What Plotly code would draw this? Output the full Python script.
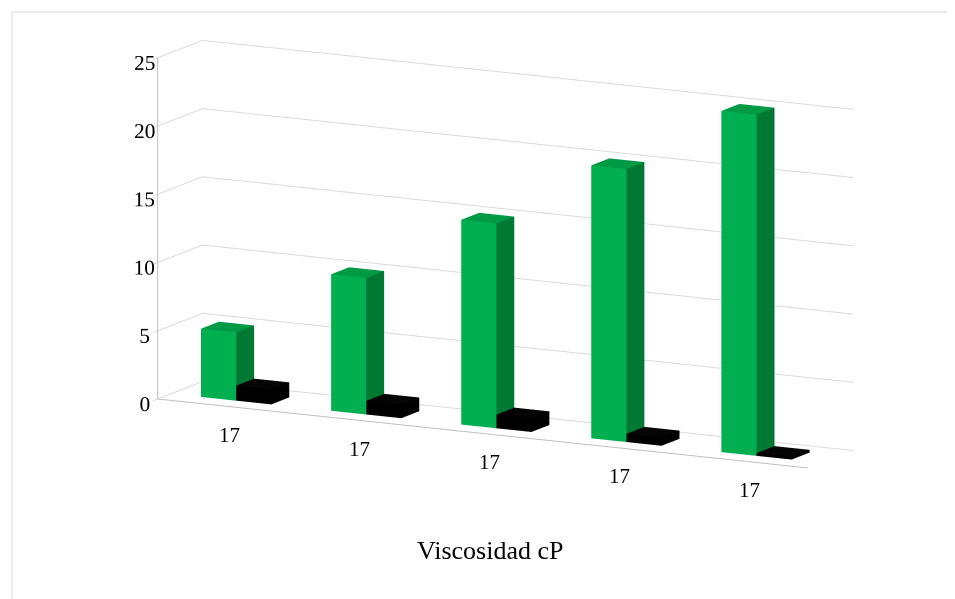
import math
import plotly.graph_objects as go

categories = ["17", "17", "17", "17", "17"]
green_values = [5.0, 10.0, 15.0, 20.0, 25.0]
black_values = [1.1, 1.0, 1.0, 0.6, 0.2]
z_ticks = [0, 5, 10, 15, 20, 25]
axis_title = "Viscosidad cP"

BAR_W = 0.27
Y0, Y1 = 0.3, 0.7
positions = list(range(1, len(categories) + 1))


def cuboids(values, offset, colors):
    xs, ys, zs, ii, jj, kk, fc = [], [], [], [], [], [], []
    faces = [
        ((0, 1, 2), "bottom"), ((0, 2, 3), "bottom"),
        ((4, 5, 6), "top"), ((4, 6, 7), "top"),
        ((0, 1, 5), "front"), ((0, 5, 4), "front"),
        ((3, 2, 6), "back"), ((3, 6, 7), "back"),
        ((0, 3, 7), "left"), ((0, 7, 4), "left"),
        ((1, 2, 6), "right"), ((1, 6, 5), "right"),
    ]
    for c, v in zip(positions, values):
        x0 = c + offset
        x1 = x0 + BAR_W
        base = len(xs)
        for (x, y, z) in [(x0, Y0, 0), (x1, Y0, 0), (x1, Y1, 0), (x0, Y1, 0),
                          (x0, Y0, v), (x1, Y0, v), (x1, Y1, v), (x0, Y1, v)]:
            xs.append(x); ys.append(y); zs.append(z)
        for (a, b, d), name in faces:
            ii.append(base + a); jj.append(base + b); kk.append(base + d)
            fc.append(colors[name])
    return xs, ys, zs, ii, jj, kk, fc


green_cols = dict(front="#00B050", right="#007A33", top="#009A44",
                  left="#00B050", back="#007A33", bottom="#007A33")
black_cols = dict(front="#000000", right="#000000", top="#050505",
                  left="#000000", back="#000000", bottom="#000000")

fig = go.Figure()
for vals, off, cols in [(green_values, -BAR_W, green_cols), (black_values, 0.0, black_cols)]:
    xs, ys, zs, ii, jj, kk, fc = cuboids(vals, off, cols)
    fig.add_trace(go.Mesh3d(
        x=xs, y=ys, z=zs, i=ii, j=jj, k=kk, facecolor=fc,
        flatshading=True,
        lighting=dict(ambient=1.0, diffuse=0.0, specular=0.0, roughness=1.0, fresnel=0.0),
        hoverinfo="skip", showscale=False,
    ))

tick_font = dict(family="Liberation Serif", size=16, color="#000000")
label_font = dict(family="Liberation Serif", size=21, color="#000000")

rot, elev, dist = math.radians(28), math.radians(10), 2.0
eye = dict(x=dist * math.sin(rot) * math.cos(elev),
           y=-dist * math.cos(rot) * math.cos(elev),
           z=dist * math.sin(elev))

fig.update_layout(
    width=955, height=599,
    margin=dict(l=0, r=0, t=0, b=0),
    paper_bgcolor="white",
    showlegend=False,
    font=label_font,
    scene=dict(
        domain=dict(x=[0.05, 1.0], y=[0.126, 1.0]),
        bgcolor="white",
        aspectmode="manual",
        aspectratio=dict(x=2.8, y=0.37, z=1.33),
        camera=dict(eye=eye, center=dict(x=0.018, y=0, z=-0.06),
                    projection=dict(type="orthographic")),
        xaxis=dict(range=[0.5, 5.5], tickvals=positions, ticktext=categories,
                   showticklabels=False,
                   showgrid=False, zeroline=False, showline=True, linecolor="#BFBFBF",
                   linewidth=2, showbackground=False, title=dict(text=""),
                   ticks="", showspikes=False),
        yaxis=dict(range=[0, 1], showgrid=False, zeroline=False, showline=False,
                   showticklabels=False, ticks="", showbackground=False,
                   title=dict(text=""), showspikes=False),
        zaxis=dict(range=[0, 25], tickvals=z_ticks, showgrid=True, gridcolor="#D9D9D9",
                   tickangle=0,
                   gridwidth=2, zeroline=False, showline=True, linecolor="#BFBFBF",
                   linewidth=2, ticks="outside", tickcolor="#BFBFBF", ticklen=12,
                   showbackground=False, title=dict(text=""), tickfont=tick_font,
                   showspikes=False),
        annotations=[dict(x=p, y=0.15, z=0, text=t, showarrow=False, yshift=-32,
                          font=label_font) for p, t in zip(positions, categories)],
    ),
    annotations=[dict(text=axis_title, x=0.505, y=0.095, xref="paper", yref="paper",
                      xanchor="center", yanchor="middle",
                      showarrow=False, font=dict(family="Liberation Serif", size=26, color="#000000"))],
    shapes=[dict(type="rect", xref="paper", yref="paper", x0=4 / 955, y0=-0.1, x1=1.1, y1=1 - 4 / 599,
                 line=dict(color="#D9D9D9", width=1), fillcolor="rgba(0,0,0,0)")],
)

fig.write_html("out.html")
